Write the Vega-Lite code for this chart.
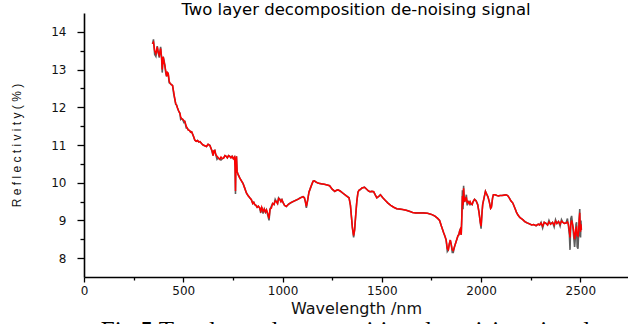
{
  "$schema": "https://vega.github.io/schema/vega-lite/v6.json",
  "width": 544,
  "height": 264,
  "autosize": {"type": "none"},
  "padding": {"left": 84, "top": 13, "right": 0, "bottom": 47},
  "background": "white",
  "title": {"text": "Two layer decomposition de-noising signal", "font": "DejaVu Sans", "fontSize": 16.5, "fontWeight": "normal", "color": "black", "anchor": "middle", "offset": -5},
  "config": {"view": {"stroke": null}},
  "data": {"values": [
    {"wl": 345, "den": 13.68, "raw": 13.68},
    {"wl": 350, "den": 13.72, "raw": 13.8},
    {"wl": 356, "den": 13.5, "raw": 13.4},
    {"wl": 362, "den": 13.42, "raw": 13.35},
    {"wl": 369, "den": 13.6, "raw": 13.62},
    {"wl": 374, "den": 13.45, "raw": 13.45},
    {"wl": 379, "den": 13.38, "raw": 13.32},
    {"wl": 386, "den": 13.56, "raw": 13.6},
    {"wl": 391, "den": 13.3, "raw": 13.3},
    {"wl": 394, "den": 13.0, "raw": 12.92},
    {"wl": 399, "den": 13.34, "raw": 13.34},
    {"wl": 403, "den": 13.2, "raw": 13.25},
    {"wl": 407, "den": 13.12, "raw": 13.12},
    {"wl": 412, "den": 12.95, "raw": 12.9},
    {"wl": 416, "den": 12.82, "raw": 12.82},
    {"wl": 420, "den": 12.92, "raw": 12.92},
    {"wl": 424, "den": 12.9, "raw": 12.9},
    {"wl": 429, "den": 12.7, "raw": 12.65},
    {"wl": 433, "den": 12.64, "raw": 12.64},
    {"wl": 440, "den": 12.6, "raw": 12.6},
    {"wl": 446, "den": 12.58, "raw": 12.58},
    {"wl": 452, "den": 12.4, "raw": 12.35},
    {"wl": 458, "den": 12.2, "raw": 12.2},
    {"wl": 462, "den": 12.1, "raw": 12.08},
    {"wl": 466, "den": 12.06, "raw": 12.06},
    {"wl": 471, "den": 11.98, "raw": 11.98},
    {"wl": 477, "den": 11.9, "raw": 11.9},
    {"wl": 483, "den": 11.84, "raw": 11.84},
    {"wl": 487, "den": 11.75, "raw": 11.68},
    {"wl": 491, "den": 11.7, "raw": 11.7},
    {"wl": 497, "den": 11.68, "raw": 11.68},
    {"wl": 503, "den": 11.65, "raw": 11.6},
    {"wl": 508, "den": 11.62, "raw": 11.62},
    {"wl": 515, "den": 11.5, "raw": 11.45},
    {"wl": 520, "den": 11.45, "raw": 11.45},
    {"wl": 525, "den": 11.4, "raw": 11.4},
    {"wl": 532, "den": 11.38, "raw": 11.38},
    {"wl": 537, "den": 11.34, "raw": 11.34},
    {"wl": 542, "den": 11.35, "raw": 11.35},
    {"wl": 550, "den": 11.25, "raw": 11.25},
    {"wl": 558, "den": 11.13, "raw": 11.13},
    {"wl": 565, "den": 11.1, "raw": 11.1},
    {"wl": 572, "den": 11.12, "raw": 11.12},
    {"wl": 578, "den": 11.08, "raw": 11.08},
    {"wl": 584, "den": 11.09, "raw": 11.09},
    {"wl": 592, "den": 11.04, "raw": 11.04},
    {"wl": 600, "den": 11.0, "raw": 11.0},
    {"wl": 608, "den": 10.98, "raw": 10.98},
    {"wl": 617, "den": 10.96, "raw": 10.96},
    {"wl": 625, "den": 11.02, "raw": 11.02},
    {"wl": 634, "den": 10.99, "raw": 10.99},
    {"wl": 642, "den": 10.88, "raw": 10.88},
    {"wl": 646, "den": 10.84, "raw": 10.8},
    {"wl": 650, "den": 10.72, "raw": 10.72},
    {"wl": 655, "den": 10.85, "raw": 10.85},
    {"wl": 659, "den": 10.86, "raw": 10.86},
    {"wl": 664, "den": 10.74, "raw": 10.74},
    {"wl": 670, "den": 10.7, "raw": 10.62},
    {"wl": 676, "den": 10.66, "raw": 10.66},
    {"wl": 684, "den": 10.62, "raw": 10.62},
    {"wl": 690, "den": 10.68, "raw": 10.6},
    {"wl": 697, "den": 10.64, "raw": 10.64},
    {"wl": 703, "den": 10.65, "raw": 10.65},
    {"wl": 710, "den": 10.72, "raw": 10.72},
    {"wl": 716, "den": 10.7, "raw": 10.7},
    {"wl": 722, "den": 10.66, "raw": 10.66},
    {"wl": 728, "den": 10.72, "raw": 10.72},
    {"wl": 734, "den": 10.7, "raw": 10.7},
    {"wl": 740, "den": 10.66, "raw": 10.66},
    {"wl": 746, "den": 10.7, "raw": 10.7},
    {"wl": 752, "den": 10.64, "raw": 10.64},
    {"wl": 758, "den": 10.68, "raw": 10.68},
    {"wl": 761, "den": 10.4, "raw": 10.45},
    {"wl": 763, "den": 9.78, "raw": 9.7},
    {"wl": 765, "den": 10.6, "raw": 10.6},
    {"wl": 768, "den": 10.7, "raw": 10.7},
    {"wl": 771, "den": 10.3, "raw": 10.3},
    {"wl": 776, "den": 10.22, "raw": 10.22},
    {"wl": 785, "den": 10.12, "raw": 10.12},
    {"wl": 793, "den": 10.05, "raw": 10.05},
    {"wl": 801, "den": 9.98, "raw": 9.98},
    {"wl": 810, "den": 9.85, "raw": 9.85},
    {"wl": 818, "den": 9.73, "raw": 9.73},
    {"wl": 826, "den": 9.66, "raw": 9.66},
    {"wl": 835, "den": 9.6, "raw": 9.6},
    {"wl": 843, "den": 9.55, "raw": 9.55},
    {"wl": 850, "den": 9.45, "raw": 9.45},
    {"wl": 855, "den": 9.48, "raw": 9.48},
    {"wl": 860, "den": 9.42, "raw": 9.42},
    {"wl": 866, "den": 9.4, "raw": 9.4},
    {"wl": 872, "den": 9.35, "raw": 9.35},
    {"wl": 878, "den": 9.38, "raw": 9.38},
    {"wl": 885, "den": 9.33, "raw": 9.33},
    {"wl": 890, "den": 9.25, "raw": 9.2},
    {"wl": 895, "den": 9.35, "raw": 9.35},
    {"wl": 902, "den": 9.24, "raw": 9.18},
    {"wl": 908, "den": 9.3, "raw": 9.3},
    {"wl": 914, "den": 9.22, "raw": 9.22},
    {"wl": 919, "den": 9.28, "raw": 9.28},
    {"wl": 925, "den": 9.2, "raw": 9.15},
    {"wl": 932, "den": 9.05, "raw": 9.0},
    {"wl": 937, "den": 9.3, "raw": 9.3},
    {"wl": 944, "den": 9.33, "raw": 9.38},
    {"wl": 950, "den": 9.45, "raw": 9.45},
    {"wl": 957, "den": 9.42, "raw": 9.42},
    {"wl": 963, "den": 9.52, "raw": 9.56},
    {"wl": 969, "den": 9.5, "raw": 9.5},
    {"wl": 975, "den": 9.45, "raw": 9.45},
    {"wl": 980, "den": 9.58, "raw": 9.6},
    {"wl": 986, "den": 9.56, "raw": 9.56},
    {"wl": 992, "den": 9.5, "raw": 9.5},
    {"wl": 997, "den": 9.55, "raw": 9.55},
    {"wl": 1003, "den": 9.47, "raw": 9.47},
    {"wl": 1010, "den": 9.4, "raw": 9.4},
    {"wl": 1019, "den": 9.37, "raw": 9.37},
    {"wl": 1030, "den": 9.43, "raw": 9.43},
    {"wl": 1042, "den": 9.47, "raw": 9.47},
    {"wl": 1053, "den": 9.5, "raw": 9.5},
    {"wl": 1065, "den": 9.53, "raw": 9.53},
    {"wl": 1077, "den": 9.56, "raw": 9.56},
    {"wl": 1090, "den": 9.6, "raw": 9.6},
    {"wl": 1103, "den": 9.63, "raw": 9.63},
    {"wl": 1110, "den": 9.6, "raw": 9.6},
    {"wl": 1115, "den": 9.5, "raw": 9.5},
    {"wl": 1120, "den": 9.37, "raw": 9.33},
    {"wl": 1127, "den": 9.55, "raw": 9.55},
    {"wl": 1133, "den": 9.75, "raw": 9.75},
    {"wl": 1140, "den": 9.85, "raw": 9.85},
    {"wl": 1147, "den": 9.95, "raw": 9.95},
    {"wl": 1154, "den": 10.04, "raw": 10.04},
    {"wl": 1160, "den": 10.05, "raw": 10.05},
    {"wl": 1168, "den": 10.02, "raw": 10.02},
    {"wl": 1178, "den": 9.99, "raw": 9.99},
    {"wl": 1187, "den": 9.98, "raw": 9.98},
    {"wl": 1196, "den": 9.97, "raw": 9.97},
    {"wl": 1210, "den": 9.96, "raw": 9.96},
    {"wl": 1225, "den": 9.94, "raw": 9.94},
    {"wl": 1237, "den": 9.92, "raw": 9.92},
    {"wl": 1250, "den": 9.83, "raw": 9.83},
    {"wl": 1263, "den": 9.77, "raw": 9.77},
    {"wl": 1272, "den": 9.8, "raw": 9.8},
    {"wl": 1279, "den": 9.81, "raw": 9.81},
    {"wl": 1290, "den": 9.78, "raw": 9.78},
    {"wl": 1305, "den": 9.72, "raw": 9.72},
    {"wl": 1320, "den": 9.66, "raw": 9.66},
    {"wl": 1335, "den": 9.6, "raw": 9.6},
    {"wl": 1342, "den": 9.4, "raw": 9.4},
    {"wl": 1347, "den": 9.1, "raw": 9.1},
    {"wl": 1352, "den": 8.8, "raw": 8.8},
    {"wl": 1358, "den": 8.6, "raw": 8.55},
    {"wl": 1363, "den": 8.75, "raw": 8.75},
    {"wl": 1368, "den": 9.1, "raw": 9.1},
    {"wl": 1374, "den": 9.5, "raw": 9.5},
    {"wl": 1380, "den": 9.75, "raw": 9.75},
    {"wl": 1385, "den": 9.8, "raw": 9.8},
    {"wl": 1392, "den": 9.82, "raw": 9.82},
    {"wl": 1400, "den": 9.86, "raw": 9.86},
    {"wl": 1413, "den": 9.88, "raw": 9.88},
    {"wl": 1425, "den": 9.82, "raw": 9.82},
    {"wl": 1433, "den": 9.78, "raw": 9.78},
    {"wl": 1440, "den": 9.76, "raw": 9.76},
    {"wl": 1450, "den": 9.77, "raw": 9.77},
    {"wl": 1459, "den": 9.76, "raw": 9.76},
    {"wl": 1467, "den": 9.68, "raw": 9.68},
    {"wl": 1475, "den": 9.6, "raw": 9.6},
    {"wl": 1485, "den": 9.64, "raw": 9.64},
    {"wl": 1493, "den": 9.68, "raw": 9.68},
    {"wl": 1505, "den": 9.6, "raw": 9.6},
    {"wl": 1518, "den": 9.53, "raw": 9.53},
    {"wl": 1531, "den": 9.46, "raw": 9.46},
    {"wl": 1545, "den": 9.4, "raw": 9.4},
    {"wl": 1560, "den": 9.35, "raw": 9.35},
    {"wl": 1575, "den": 9.31, "raw": 9.31},
    {"wl": 1590, "den": 9.3, "raw": 9.3},
    {"wl": 1605, "den": 9.29, "raw": 9.29},
    {"wl": 1623, "den": 9.27, "raw": 9.27},
    {"wl": 1640, "den": 9.24, "raw": 9.24},
    {"wl": 1655, "den": 9.21, "raw": 9.21},
    {"wl": 1670, "den": 9.2, "raw": 9.2},
    {"wl": 1690, "den": 9.2, "raw": 9.2},
    {"wl": 1710, "den": 9.2, "raw": 9.2},
    {"wl": 1730, "den": 9.19, "raw": 9.19},
    {"wl": 1750, "den": 9.16, "raw": 9.16},
    {"wl": 1766, "den": 9.12, "raw": 9.12},
    {"wl": 1780, "den": 9.06, "raw": 9.06},
    {"wl": 1791, "den": 9.0, "raw": 9.0},
    {"wl": 1800, "den": 8.85, "raw": 8.85},
    {"wl": 1811, "den": 8.68, "raw": 8.68},
    {"wl": 1818, "den": 8.58, "raw": 8.58},
    {"wl": 1824, "den": 8.48, "raw": 8.48},
    {"wl": 1830, "den": 8.25, "raw": 8.18},
    {"wl": 1835, "den": 8.22, "raw": 8.22},
    {"wl": 1840, "den": 8.38, "raw": 8.38},
    {"wl": 1845, "den": 8.48, "raw": 8.48},
    {"wl": 1850, "den": 8.35, "raw": 8.35},
    {"wl": 1855, "den": 8.22, "raw": 8.15},
    {"wl": 1860, "den": 8.2, "raw": 8.15},
    {"wl": 1866, "den": 8.3, "raw": 8.3},
    {"wl": 1872, "den": 8.4, "raw": 8.4},
    {"wl": 1878, "den": 8.5, "raw": 8.5},
    {"wl": 1884, "den": 8.6, "raw": 8.6},
    {"wl": 1888, "den": 8.62, "raw": 8.62},
    {"wl": 1892, "den": 8.72, "raw": 8.72},
    {"wl": 1895, "den": 8.76, "raw": 8.76},
    {"wl": 1900, "den": 8.62, "raw": 8.62},
    {"wl": 1903, "den": 9.1, "raw": 9.1},
    {"wl": 1906, "den": 9.65, "raw": 9.8},
    {"wl": 1909, "den": 9.4, "raw": 9.3},
    {"wl": 1912, "den": 9.85, "raw": 9.92},
    {"wl": 1915, "den": 9.6, "raw": 9.5},
    {"wl": 1918, "den": 9.5, "raw": 9.5},
    {"wl": 1922, "den": 9.58, "raw": 9.58},
    {"wl": 1926, "den": 9.6, "raw": 9.68},
    {"wl": 1930, "den": 9.48, "raw": 9.4},
    {"wl": 1934, "den": 9.5, "raw": 9.5},
    {"wl": 1940, "den": 9.44, "raw": 9.5},
    {"wl": 1945, "den": 9.5, "raw": 9.42},
    {"wl": 1950, "den": 9.44, "raw": 9.44},
    {"wl": 1955, "den": 9.42, "raw": 9.42},
    {"wl": 1960, "den": 9.5, "raw": 9.5},
    {"wl": 1967, "den": 9.56, "raw": 9.56},
    {"wl": 1975, "den": 9.52, "raw": 9.52},
    {"wl": 1983, "den": 9.42, "raw": 9.42},
    {"wl": 1990, "den": 9.2, "raw": 9.2},
    {"wl": 1996, "den": 8.95, "raw": 8.95},
    {"wl": 2000, "den": 8.85, "raw": 8.78},
    {"wl": 2004, "den": 9.15, "raw": 9.15},
    {"wl": 2008, "den": 9.42, "raw": 9.42},
    {"wl": 2015, "den": 9.6, "raw": 9.6},
    {"wl": 2022, "den": 9.77, "raw": 9.77},
    {"wl": 2028, "den": 9.7, "raw": 9.7},
    {"wl": 2035, "den": 9.62, "raw": 9.62},
    {"wl": 2042, "den": 9.48, "raw": 9.48},
    {"wl": 2048, "den": 9.32, "raw": 9.32},
    {"wl": 2052, "den": 9.35, "raw": 9.35},
    {"wl": 2058, "den": 9.6, "raw": 9.6},
    {"wl": 2062, "den": 9.68, "raw": 9.68},
    {"wl": 2070, "den": 9.68, "raw": 9.68},
    {"wl": 2080, "den": 9.66, "raw": 9.66},
    {"wl": 2088, "den": 9.65, "raw": 9.65},
    {"wl": 2095, "den": 9.66, "raw": 9.66},
    {"wl": 2105, "den": 9.66, "raw": 9.66},
    {"wl": 2115, "den": 9.67, "raw": 9.67},
    {"wl": 2125, "den": 9.68, "raw": 9.68},
    {"wl": 2134, "den": 9.66, "raw": 9.66},
    {"wl": 2142, "den": 9.6, "raw": 9.6},
    {"wl": 2150, "den": 9.52, "raw": 9.52},
    {"wl": 2160, "den": 9.46, "raw": 9.46},
    {"wl": 2170, "den": 9.33, "raw": 9.33},
    {"wl": 2178, "den": 9.22, "raw": 9.22},
    {"wl": 2185, "den": 9.15, "raw": 9.15},
    {"wl": 2195, "den": 9.08, "raw": 9.08},
    {"wl": 2203, "den": 9.05, "raw": 9.05},
    {"wl": 2210, "den": 9.02, "raw": 9.02},
    {"wl": 2220, "den": 8.97, "raw": 8.97},
    {"wl": 2230, "den": 8.94, "raw": 8.94},
    {"wl": 2243, "den": 8.91, "raw": 8.91},
    {"wl": 2255, "den": 8.88, "raw": 8.88},
    {"wl": 2265, "den": 8.89, "raw": 8.89},
    {"wl": 2277, "den": 8.86, "raw": 8.86},
    {"wl": 2288, "den": 8.9, "raw": 8.9},
    {"wl": 2295, "den": 8.88, "raw": 8.88},
    {"wl": 2302, "den": 8.93, "raw": 8.95},
    {"wl": 2310, "den": 8.85, "raw": 8.8},
    {"wl": 2318, "den": 8.95, "raw": 8.95},
    {"wl": 2327, "den": 8.92, "raw": 8.92},
    {"wl": 2335, "den": 8.88, "raw": 8.88},
    {"wl": 2342, "den": 8.96, "raw": 9.0},
    {"wl": 2350, "den": 8.9, "raw": 8.9},
    {"wl": 2360, "den": 8.95, "raw": 8.95},
    {"wl": 2368, "den": 8.88, "raw": 8.83},
    {"wl": 2375, "den": 8.98, "raw": 9.02},
    {"wl": 2382, "den": 8.92, "raw": 8.92},
    {"wl": 2390, "den": 8.97, "raw": 8.97},
    {"wl": 2398, "den": 8.9, "raw": 8.85},
    {"wl": 2405, "den": 8.98, "raw": 9.02},
    {"wl": 2412, "den": 8.95, "raw": 8.95},
    {"wl": 2420, "den": 8.92, "raw": 8.92},
    {"wl": 2428, "den": 8.93, "raw": 8.93},
    {"wl": 2435, "den": 8.96, "raw": 9.05},
    {"wl": 2440, "den": 8.9, "raw": 8.85},
    {"wl": 2445, "den": 8.7, "raw": 8.6},
    {"wl": 2448, "den": 8.55, "raw": 8.22},
    {"wl": 2452, "den": 8.9, "raw": 9.05},
    {"wl": 2456, "den": 9.0, "raw": 9.12},
    {"wl": 2461, "den": 8.89, "raw": 8.89},
    {"wl": 2466, "den": 8.75, "raw": 8.6},
    {"wl": 2471, "den": 8.5, "raw": 8.3},
    {"wl": 2475, "den": 8.65, "raw": 8.55},
    {"wl": 2478, "den": 8.8, "raw": 8.9},
    {"wl": 2481, "den": 8.82, "raw": 8.95},
    {"wl": 2484, "den": 8.6, "raw": 8.3},
    {"wl": 2488, "den": 8.58, "raw": 8.25},
    {"wl": 2491, "den": 8.7, "raw": 8.6},
    {"wl": 2494, "den": 9.0, "raw": 9.05},
    {"wl": 2497, "den": 9.2, "raw": 9.3},
    {"wl": 2499, "den": 8.85, "raw": 8.6},
    {"wl": 2501, "den": 8.7, "raw": 8.55},
    {"wl": 2503, "den": 8.9, "raw": 9.0},
    {"wl": 2505, "den": 8.75, "raw": 8.75}
  ]},
  "layer": [
    {
      "mark": {"type": "line", "color": "#5e5e5e", "strokeWidth": 1.6, "clip": true},
      "encoding": {
        "x": {"field": "wl", "type": "quantitative",
          "scale": {"domain": [0, 2740], "nice": false, "zero": false},
          "axis": {"orient": "bottom", "title": "Wavelength /nm", "values": [0, 250, 500, 750, 1000, 1250, 1500, 1750, 2000, 2250, 2500],
            "labelExpr": "datum.value % 500 === 0 ? format(datum.value, 'd') : ''",
            "grid": false, "domainColor": "black", "domainWidth": 1.6, "tickColor": "black", "tickWidth": 1.3,
            "tickSize": {"condition": {"test": "datum.value % 500 !== 0", "value": 3}, "value": 5},
            "labelFont": "DejaVu Sans", "labelFontSize": 12, "labelColor": "#111", "labelPadding": 3, "labelFlush": false, "labelOverlap": false,
            "titleFont": "DejaVu Sans", "titleFontSize": 16, "titleFontWeight": "normal", "titleColor": "#111", "titlePadding": 4}},
        "y": {"field": "raw", "type": "quantitative",
          "scale": {"domain": [7.5, 14.5], "nice": false, "zero": false},
          "axis": {"title": "R e f l e c t i v i t y ( % )", "values": [8, 8.5, 9, 9.5, 10, 10.5, 11, 11.5, 12, 12.5, 13, 13.5, 14],
            "labelExpr": "datum.value % 1 === 0 ? format(datum.value, 'd') : ''",
            "grid": false, "domainColor": "black", "domainWidth": 1.6, "tickColor": "black", "tickWidth": 1.3,
            "tickSize": {"condition": {"test": "datum.value % 1 !== 0", "value": 4}, "value": 7},
            "labelFont": "DejaVu Sans", "labelFontSize": 12, "labelColor": "#111", "labelPadding": 11, "labelFlush": false, "labelOverlap": false,
            "titleFont": "Liberation Sans", "titleFontSize": 12, "titleFontWeight": "normal", "titleColor": "#111", "titlePadding": 27}}
      }
    },
    {
      "mark": {"type": "line", "color": "#ff0000", "strokeWidth": 1.5, "clip": true},
      "encoding": {
        "x": {"field": "wl", "type": "quantitative",
          "axis": {"orient": "bottom", "offset": 41, "title": "Fig.5 Two layer decomposition de-noising signal", "domain": false, "ticks": false, "labels": false, "grid": false,
            "titleX": 261, "titleFont": "Liberation Serif", "titleFontSize": 25, "titleFontWeight": "normal", "titleColor": "black", "titlePadding": 0}},
        "y": {"field": "den", "type": "quantitative", "axis": null}
      }
    }
  ],
  "resolve": {"axis": {"x": "independent", "y": "independent"}}
}
